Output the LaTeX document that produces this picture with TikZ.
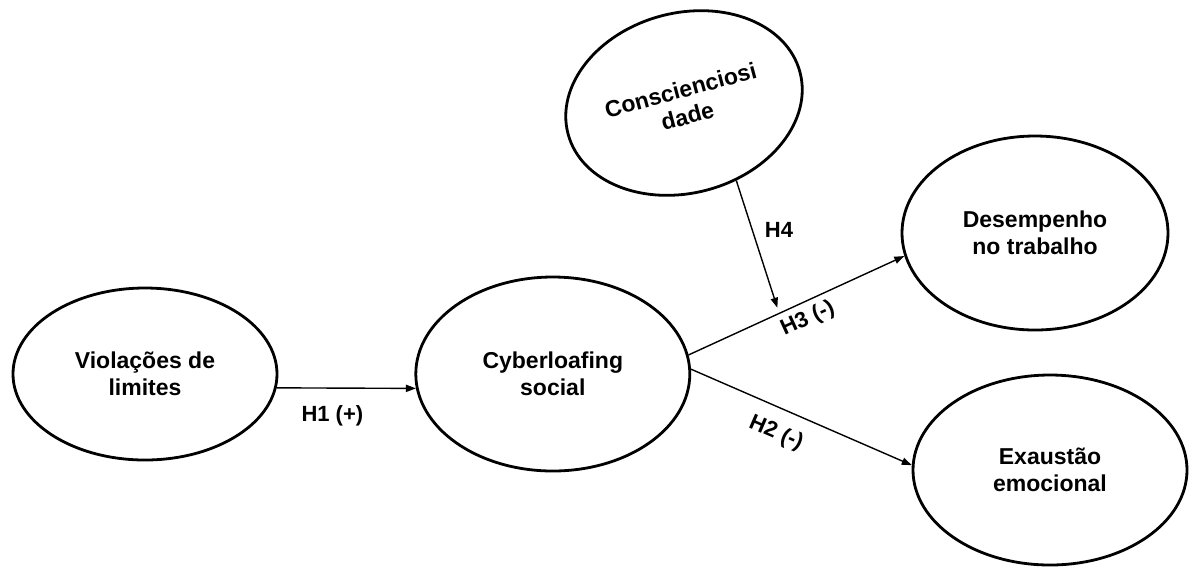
\documentclass[tikz,border=0pt]{standalone}
\usepackage{fontspec}
\setmainfont{Liberation Sans}
\usepackage{tikz}
\usetikzlibrary{shapes.geometric,positioning,arrows.meta}

\begin{document}
\begin{tikzpicture}[x=0.5pt, y=-0.5pt, node distance=68pt,
    construct/.style={ellipse, draw, line width=1.4pt, align=center, inner sep=0pt,
      font=\fontsize{11.5}{13.5}\selectfont\bfseries},
    hyp/.style={inner sep=1pt, font=\fontsize{11}{13}\selectfont\bfseries},
    link/.style={-{Triangle[length=5pt,width=3.6pt]}, line width=0.7pt}]
      \useasboundingbox (0,0) rectangle (1189,570);
      \node[construct, minimum width=132pt, minimum height=86pt] (viol) at (145,374) {Violações de\\limites};
      \node[construct, minimum width=137pt, minimum height=97pt] (cyber) [right=of viol] {Cyberloafing\\social};
      \node[construct, minimum width=120pt, minimum height=90pt, rotate=15] (consc) at (684,103) {Conscienciosi\\dade};
      \node[construct, minimum width=133pt, minimum height=97pt] (desemp) at (1035,233) {Desempenho\\no trabalho};
      \node[construct, minimum width=137pt, minimum height=95pt] (exaus) at (1050,470) {Exaustão\\emocional};
      \draw[link] (viol.-6) -- node[hyp, pos=0.4, below=7.3pt] {H1 (+)} (cyber.186);
      \draw[link] (cyber.8) -- coordinate[pos=0.42] (meet)
        node[hyp, pos=0.52, sloped, below=2pt] {H3 (-)} (desemp.190);
      \draw[link] (cyber.2) -- node[hyp, pos=0.43, sloped, below=6pt] {H2 (-)} (exaus.178);
      \draw[link, shorten >=3pt] (consc.-71) -- node[hyp, pos=0.37, right=5pt] {H4} (meet);
    \end{tikzpicture}
\end{document}
